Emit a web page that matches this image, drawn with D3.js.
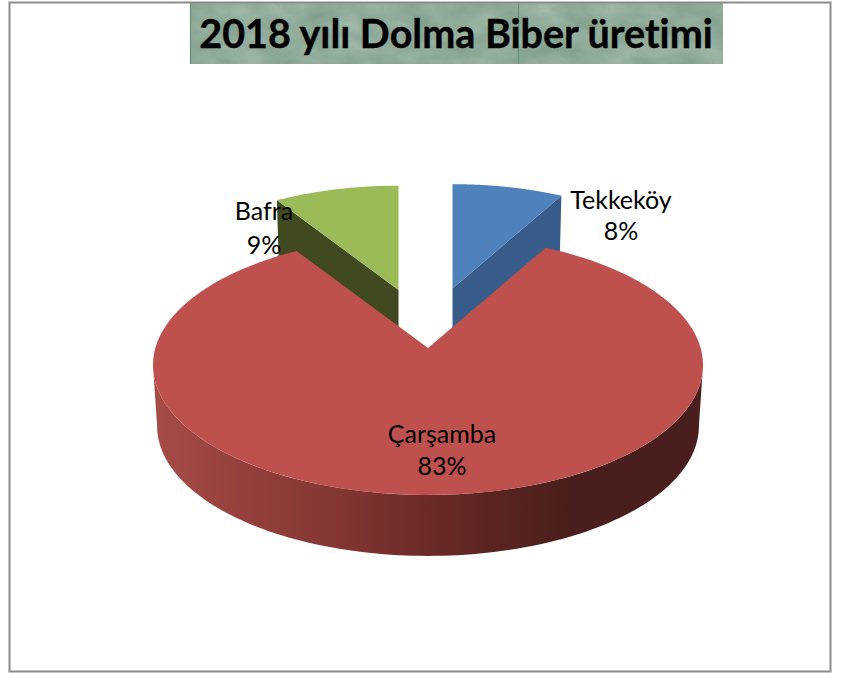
<!DOCTYPE html>
<html lang="tr"><head><meta charset="utf-8">
<script src="https://cdn.jsdelivr.net/npm/d3@7"></script>
<style>html,body{margin:0;padding:0;background:#fff}svg{display:block}text{font-variant-ligatures:none}</style>
</head><body><div id="chart"></div>
<script>
const categories = ["Tekkeköy", "Çarşamba", "Bafra"];
const values = [8, 83, 9];
const chartTitle = "2018 yılı Dolma Biber üretimi";

const W = 851, H = 673;
const topColors = ["#4f81bd", "#be504d", "#9bbb59"];
const wallColors = ["#385d8a", "url(#redWall)", "#40491f"];
// slice placement in the exploded 3D view
const sliceView = [
  {ax: 452.5, ay: 288.5, s: 1, depth: 62},
  {ax: 428, ay: 348, s: 1.082, depth: 61},
  {ax: 398.5, ay: 290, s: 1, depth: 62}
];
const labelPos = [[621, 201, 232], [442, 435, 467], [264, 212, 246]];
const RX = 252, RY = 118, P = 0.131;

const svg = d3.select("#chart").append("svg").attr("width", W).attr("height", H);
const defs = svg.append("defs");

const grad = defs.append("linearGradient").attr("id", "redWall")
  .attr("gradientUnits", "userSpaceOnUse").attr("x1", 155).attr("x2", 700).attr("y1", 0).attr("y2", 0);
[[0, "#a64c47"], [.18, "#933f3b"], [.34, "#833632"], [.5, "#6b2a27"], [.66, "#562320"], [.76, "#4a1e1c"], [1, "#4a1e1c"]]
  .forEach(d => grad.append("stop").attr("offset", d[0]).attr("stop-color", d[1]));

const tex = defs.append("filter").attr("id", "marble")
  .attr("color-interpolation-filters", "sRGB")
  .attr("x", 0).attr("y", 0).attr("width", 1).attr("height", 1);
tex.append("feTurbulence").attr("type", "fractalNoise").attr("baseFrequency", "0.03 0.05")
  .attr("numOctaves", 4).attr("seed", 7).attr("result", "n");
tex.append("feColorMatrix").attr("in", "n").attr("type", "matrix")
  .attr("values", "0.17 0 0 0 0.48  0.14 0 0 0 0.60  0.15 0 0 0 0.53  0 0 0 0 1");

// title band
svg.append("rect").attr("x", 190).attr("y", 3).attr("width", 533).attr("height", 61)
  .attr("fill", "#8dab99").attr("filter", "url(#marble)");
svg.append("line").attr("x1", 190.5).attr("x2", 190.5).attr("y1", 3).attr("y2", 64).attr("stroke", "#5f8a6c");
svg.append("line").attr("x1", 518.5).attr("x2", 518.5).attr("y1", 3).attr("y2", 64).attr("stroke", "#5f8a6c");

// frame
svg.append("rect").attr("x", 9.5).attr("y", 2.5).attr("width", 821).attr("height", 669)
  .attr("fill", "none").attr("stroke", "#8c8c8c").attr("stroke-width", 2);

const pie = d3.pie().sort(null).startAngle(0).endAngle(2 * Math.PI);
const arcs = pie(values);

function project(a, r, view, down) {
  const u = Math.sin(a) * r, v = -Math.cos(a) * r, k = 1 / (1 - P * v);
  const xs = down ? 0.985 : 1;
  return [view.ax + RX * view.s * u * k * xs, view.ay + RY * view.s * v * k + (down ? view.depth : 0)];
}
const line = d3.line();
const samples = (a0, a1) => { const n = 120; return d3.range(n + 1).map(i => a0 + (a1 - a0) * i / n); };

function topPath(d, view) {
  return line([project(0, 0, view)].concat(samples(d.startAngle, d.endAngle).map(a => project(a, 1, view)))) + "Z";
}
function wallPath(d, i, view) {
  if (i === 1) {
    // the visible side runs between the two silhouette points of the disc
    const a0 = Math.acos(-P), as = samples(a0, 2 * Math.PI - a0);
    return line(as.map(a => project(a, 1, view)).concat(as.slice().reverse().map(a => project(a, 1, view, true)))) + "Z";
  }
  // the cut face that looks towards the viewer
  const edge = i === 0 ? d.endAngle : d.startAngle;
  return line([project(0, 0, view), project(edge, 1, view), project(edge, 1, view, true), project(0, 0, view, true)]) + "Z";
}

const g = svg.append("g");
[0, 2, 1].forEach(i => {
  const d = arcs[i], view = sliceView[i];
  g.append("path").attr("d", wallPath(d, i, view)).attr("fill", wallColors[i]);
  g.append("path").attr("d", topPath(d, view)).attr("fill", topColors[i]);
});

const total = d3.sum(values);
const pct = d3.format(".0%");
const labels = svg.append("g").attr("font-family", "Lato, 'Open Sans', sans-serif")
  .attr("font-size", 25).attr("fill", "#000").attr("text-anchor", "middle");
categories.forEach((c, i) => {
  labels.append("text").attr("x", labelPos[i][0]).attr("y", labelPos[i][1] + 8).text(c);
  labels.append("text").attr("x", labelPos[i][0]).attr("y", labelPos[i][2] + 8).text(pct(values[i] / total));
});

svg.append("text").attr("x", 456).attr("y", 48).attr("text-anchor", "middle")
  .attr("font-family", "Lato, sans-serif").attr("font-weight", 700).attr("font-size", 39.5)
  .attr("stroke", "#000").attr("stroke-width", 0.4)
  .attr("fill", "#000").text(chartTitle);
</script></body></html>
